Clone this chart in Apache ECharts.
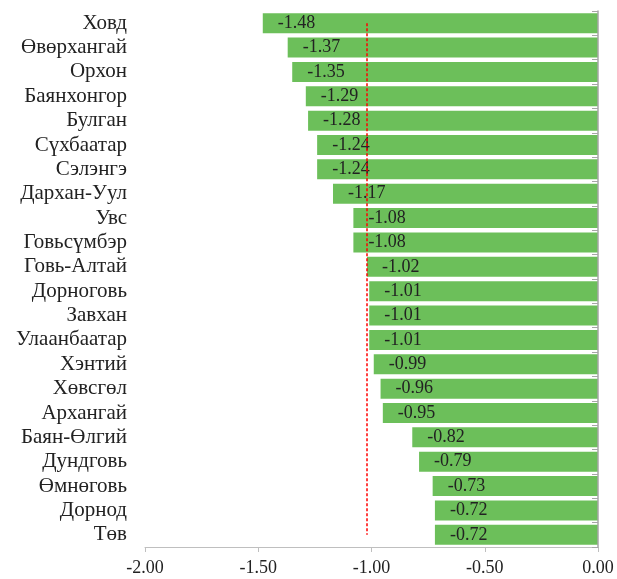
<!DOCTYPE html>
<html>
<head>
<meta charset="utf-8">
<script src="https://cdn.jsdelivr.net/npm/echarts@6/dist/echarts.min.js"></script>
<style>
html,body{margin:0;padding:0;background:#fff;}
#c{width:617px;height:579px;}
</style>
</head>
<body>
<div id="c"></div>
<script>
var categories = ['Ховд','Өвөрхангай','Орхон','Баянхонгор','Булган','Сүхбаатар','Сэлэнгэ','Дархан-Уул','Увс','Говьсүмбэр','Говь-Алтай','Дорноговь','Завхан','Улаанбаатар','Хэнтий','Хөвсгөл','Архангай','Баян-Өлгий','Дундговь','Өмнөговь','Дорнод','Төв'];
var values = [-1.48,-1.37,-1.35,-1.29,-1.28,-1.24,-1.24,-1.17,-1.08,-1.08,-1.02,-1.01,-1.01,-1.01,-0.99,-0.96,-0.95,-0.82,-0.79,-0.73,-0.72,-0.72];
var referenceValue = -1.02;
var xTicks = [-2.00,-1.50,-1.00,-0.50,0.00];

var font = '"Liberation Serif","Times New Roman",serif';
var chart = echarts.init(document.getElementById('c'), null, {renderer:'canvas'});
chart.setOption({
  animation:false,
  grid:{left:145,right:19,top:11,bottom:32,containLabel:false},
  xAxis:{
    type:'value',min:xTicks[0],max:xTicks[xTicks.length-1],interval:0.5,
    axisLine:{show:true,onZero:false,lineStyle:{color:'#bfbfbf',width:1}},
    axisTick:{show:true,length:5,lineStyle:{color:'#bfbfbf'}},
    splitLine:{show:false},
    axisLabel:{color:'#222',fontFamily:font,fontSize:18,margin:12,
      formatter:function(v){return v.toFixed(2);}}
  },
  yAxis:[{
    type:'category',data:categories,inverse:true,position:'left',
    axisLine:{show:false},axisTick:{show:false},
    axisLabel:{color:'#222',fontFamily:font,fontSize:21,margin:18,interval:0}
  },{
    type:'category',data:categories,inverse:true,position:'right',z:10,
    axisLine:{show:true,lineStyle:{color:'#a6a6a6',width:1.5}},
    axisTick:{show:true,inside:true,interval:0,length:6,lineStyle:{color:'#a6a6a6'}},
    axisLabel:{show:false}
  }],
  series:[{
    type:'bar',data:values,yAxisIndex:0,barCategoryGap:'18%',
    itemStyle:{color:'#6cbf5a'},
    label:{show:true,position:'insideLeft',distance:15,color:'#222',fontFamily:font,fontSize:18,
      formatter:function(p){return p.value.toFixed(2);}},
    markLine:{
      silent:true,symbol:['none','none'],z:5,
      label:{show:false},
      lineStyle:{color:'#ff0000',type:[3,2],width:1.5},
      data:[[{coord:[referenceValue,categories[0]]},{coord:[referenceValue,categories[categories.length-1]]}]]
    }
  }]
});
</script>
</body>
</html>
